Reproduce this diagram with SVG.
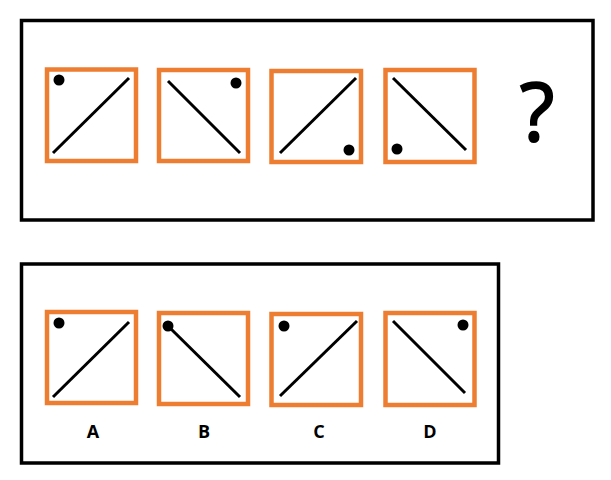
<svg xmlns="http://www.w3.org/2000/svg" width="611" height="480" viewBox="0 0 611 480">
<style>
.frame{fill:none;stroke:#000;stroke-width:3.5}
.box{fill:#fff;stroke:#ED7D31;stroke-width:4.5}
.ln{stroke:#000;stroke-width:3;stroke-linecap:butt}
.dot{fill:#000}
.lbl{font-family:"Open Sans","Liberation Sans",sans-serif;font-weight:bold;font-size:18px;text-anchor:middle;fill:#000}
.q{font-family:"Open Sans","DejaVu Sans",sans-serif;font-size:80px;text-anchor:middle;fill:#000;stroke:#000;stroke-width:2}
</style>
<rect width="611" height="480" fill="#fff"/>
<g id="question-panel">
<rect class="frame" x="21.5" y="20.5" width="571.5" height="199.5"/>
</g>
<g id="q1"><rect class="box" x="47" y="69.5" width="89" height="91.5"/><line class="ln" x1="53" y1="153" x2="129" y2="78"/><circle class="dot" cx="59" cy="80" r="5.5"/></g>
<g id="q2"><rect class="box" x="159" y="70" width="89" height="91"/><line class="ln" x1="168" y1="81" x2="240" y2="153"/><circle class="dot" cx="236" cy="83" r="5.5"/></g>
<g id="q3"><rect class="box" x="271.5" y="71" width="89.5" height="91"/><line class="ln" x1="280" y1="153" x2="356" y2="78"/><circle class="dot" cx="349" cy="150" r="5.5"/></g>
<g id="q4"><rect class="box" x="385.5" y="70" width="89" height="92"/><line class="ln" x1="393" y1="78" x2="466" y2="150"/><circle class="dot" cx="397" cy="149" r="5.5"/></g>
<g id="qmark"><text class="q" x="537" y="141">?</text></g>
<g id="answer-panel">
<rect class="frame" x="21.5" y="264" width="477" height="199"/>
</g>
<g id="optA"><rect class="box" x="47" y="312" width="89" height="91"/><line class="ln" x1="53" y1="397" x2="129" y2="322"/><circle class="dot" cx="59" cy="323" r="5.5"/><text class="lbl" x="93" y="438">A</text></g>
<g id="optB"><rect class="box" x="159" y="313" width="89" height="91"/><line class="ln" x1="168" y1="326" x2="240" y2="397"/><circle class="dot" cx="168" cy="326" r="5.5"/><text class="lbl" x="204" y="438">B</text></g>
<g id="optC"><rect class="box" x="271.5" y="314" width="89.5" height="91"/><line class="ln" x1="280" y1="396" x2="357" y2="321"/><circle class="dot" cx="284" cy="326" r="5.5"/><text class="lbl" x="319" y="438">C</text></g>
<g id="optD"><rect class="box" x="385.5" y="313" width="89" height="92"/><line class="ln" x1="393" y1="321" x2="465" y2="393"/><circle class="dot" cx="463" cy="325" r="5.5"/><text class="lbl" x="430" y="438">D</text></g>
<g id="connectors"></g>
</svg>
